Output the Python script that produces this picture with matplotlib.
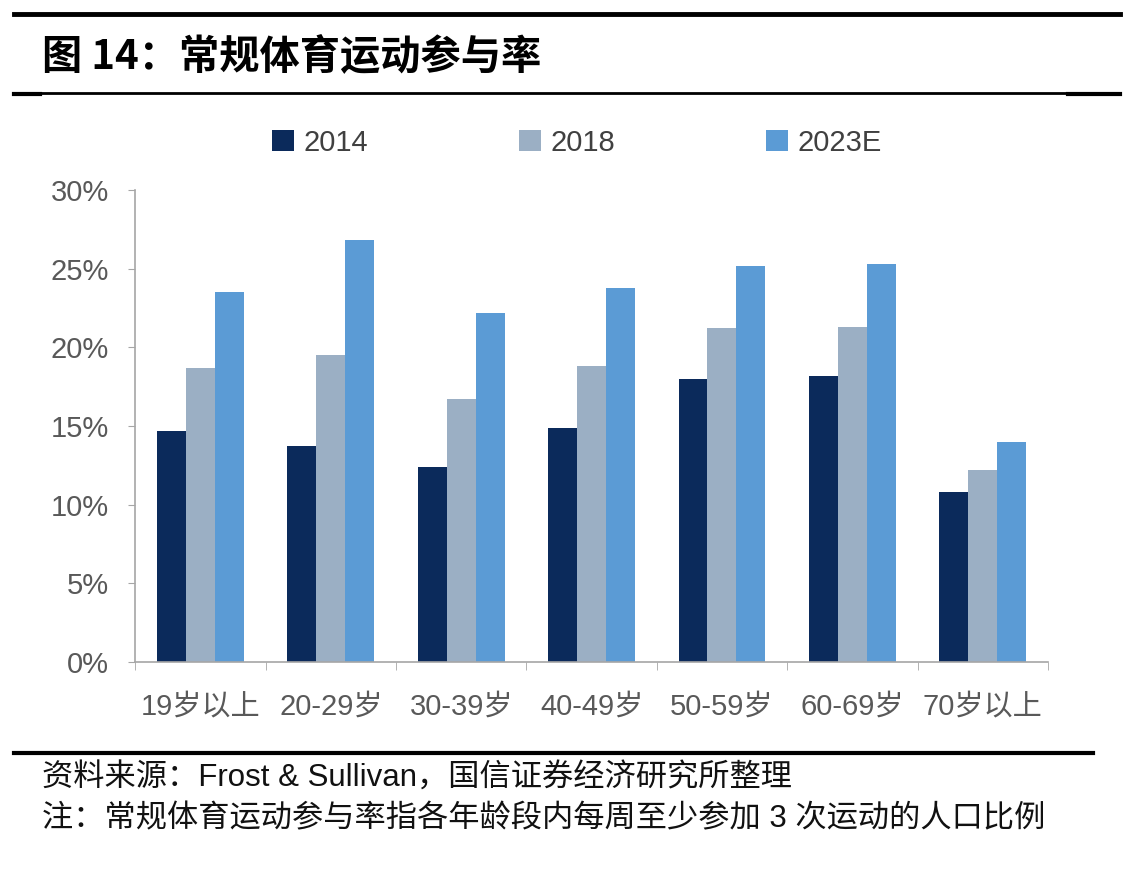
import numpy as np
import matplotlib
matplotlib.use('Agg')
import matplotlib.pyplot as plt
from matplotlib.ticker import PercentFormatter
from matplotlib.lines import Line2D

plt.rcParams['font.family'] = ['Liberation Sans', 'Noto Sans CJK SC', 'DejaVu Sans']

categories = ['19岁以上', '20-29岁', '30-39岁', '40-49岁', '50-59岁', '60-69岁', '70岁以上']
series = ['2014', '2018', '2023E']
v2014 = [14.7, 13.7, 12.4, 14.9, 18.0, 18.2, 10.8]
v2018 = [18.7, 19.5, 16.7, 18.8, 21.2, 21.3, 12.2]
v2023 = [23.5, 26.8, 22.2, 23.8, 25.2, 25.3, 14.0]
colors = ['#0b2a5b', '#9bafc4', '#5b9bd5']

fig = plt.figure(figsize=(11.36, 8.74), dpi=100)
ax = fig.add_axes([0.119, 0.2426, 0.8035, 0.54])

x = np.arange(len(categories))
w = 0.222
for i, (vals, c, name) in enumerate(zip([v2014, v2018, v2023], colors, series)):
    ax.bar(x + (i - 1) * w, vals, width=w, color=c, label=name)

ax.set_xlim(-0.5, len(categories) - 0.5)
ax.set_ylim(0, 30)
ax.set_yticks(np.arange(0, 31, 5))
ax.yaxis.set_major_formatter(PercentFormatter(decimals=0))
ax.set_xticks(x)
ax.set_xticklabels(categories)
ax.set_xticks(np.arange(-0.5, len(categories)), minor=True)

for s in ['top', 'right']:
    ax.spines[s].set_visible(False)
for s in ['left', 'bottom']:
    ax.spines[s].set_color('#a6a6a6')
    ax.spines[s].set_linewidth(1.2)
ax.tick_params(axis='y', colors='#a6a6a6', labelcolor='#595959', labelsize=21, length=5, pad=14)
ax.tick_params(axis='x', which='major', length=0, labelcolor='#595959', labelsize=21, pad=22)
ax.tick_params(axis='x', which='minor', length=6, color='#a6a6a6')

ax.legend(loc='center', bbox_to_anchor=(0.484, 1.1), ncol=3, frameon=False,
          fontsize=21, labelcolor='#404040', handlelength=0.75, handleheight=0.75,
          handletextpad=0.3, columnspacing=5.2)

# title block
fig.add_artist(Line2D([0.012, 0.986], [0.984, 0.984], color='black', lw=3.5))
fig.add_artist(Line2D([0.012, 0.986], [0.894, 0.894], color='black', lw=2))
fig.add_artist(Line2D([0.012, 0.035], [0.892, 0.892], color='black', lw=3))
fig.add_artist(Line2D([0.94, 0.986], [0.892, 0.892], color='black', lw=3))
fig.text(0.037, 0.934, '图 14：常规体育运动参与率', fontsize=29, fontweight='heavy',
         va='center', ha='left', family=['Noto Sans CJK SC', 'DejaVu Sans'])

# source block
fig.add_artist(Line2D([0.012, 0.962], [0.139, 0.139], color='black', lw=3))
fig.text(0.037, 0.109, '资料来源：Frost & Sullivan，国信证券经济研究所整理', fontsize=22.5,
         va='center', ha='left', color='#111111')
fig.text(0.037, 0.062, '注：常规体育运动参与率指各年龄段内每周至少参加 3 次运动的人口比例', fontsize=22.5,
         va='center', ha='left', color='#111111')

fig.savefig('out.png', dpi=100)
